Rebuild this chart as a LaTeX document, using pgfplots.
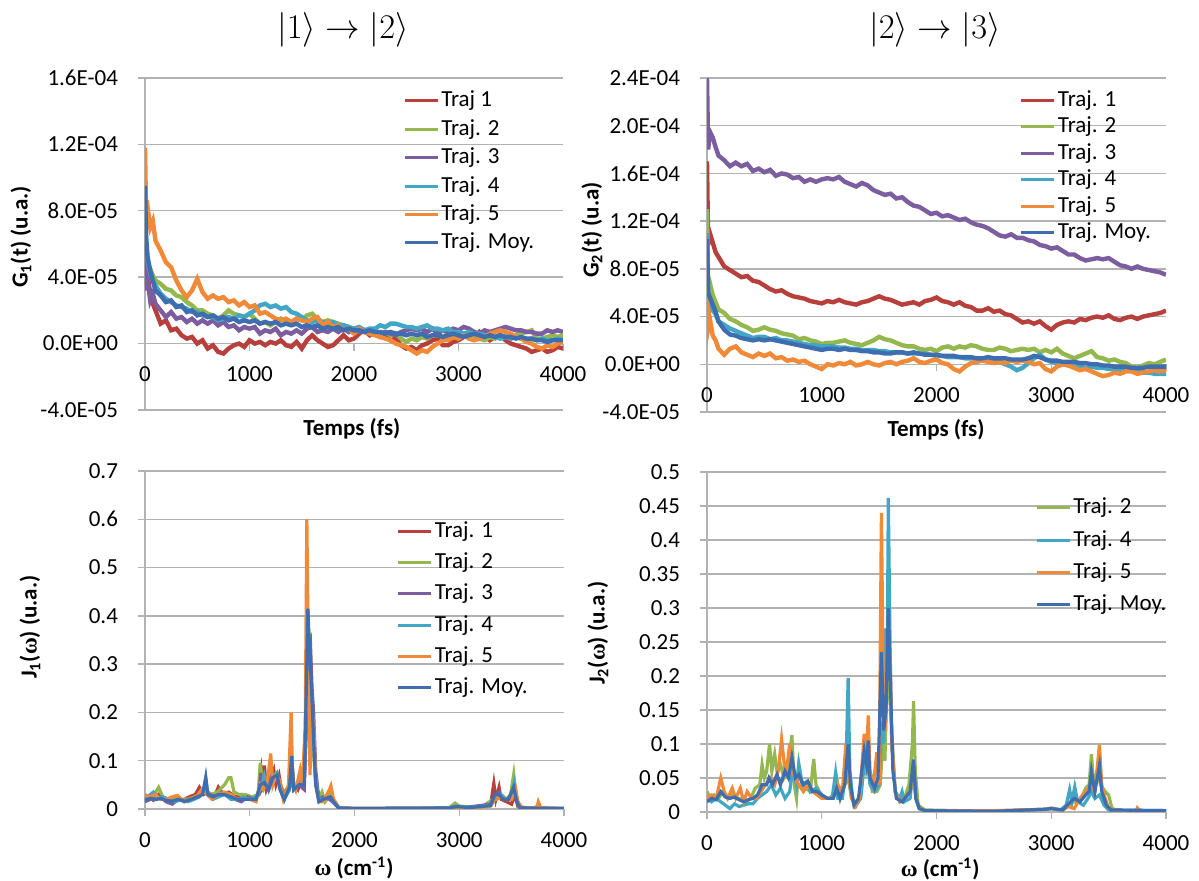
\documentclass[border=0pt]{standalone}
\usepackage[no-math]{fontspec}
\setmainfont{Carlito}
\newfontfamily\symf{Liberation Serif}
\usepackage{pgfplots}
\usepackage{pgfplotstable}
\pgfplotsset{compat=1.18}
\definecolor{c1}{RGB}{184,64,60}
\definecolor{c2}{RGB}{148,184,78}
\definecolor{c3}{RGB}{124,93,160}
\definecolor{c4}{RGB}{66,167,196}
\definecolor{c5}{RGB}{240,137,56}
\definecolor{c6}{RGB}{62,110,176}
\definecolor{gridc}{RGB}{178,178,178}

\pgfplotstableread{
t r g p c o m
0 6.0 7.5 5.5 9.2 11.8 9.5
10 3.5 5.5 3.2 6.0 8.0 6.5
25 4.2 4.8 3.8 5.0 8.2 5.2
50 3.0 4.5 2.6 4.2 7.0 4.4
75 2.4 4.1 3.0 3.8 7.4 3.8
100 2.0 3.8 2.4 3.5 6.2 3.2
150 1.2 3.6 2.0 3.0 5.6 2.9
200 1.4 3.3 1.6 2.7 4.9 2.5
250 0.8 3.2 1.9 2.5 4.6 2.6
300 0.9 2.9 1.5 2.3 3.8 2.2
350 0.5 2.8 1.6 2.2 3.2 2.3
400 0.3 2.5 1.3 2.1 2.8 1.9
450 0.4 2.3 1.5 1.9 3.2 2.0
500 0.0 2.0 1.2 1.9 3.9 1.7
550 0.2 2.0 1.4 1.7 3.1 1.8
600 -0.3 1.8 1.2 1.6 2.7 1.6
650 -0.1 1.7 1.4 1.6 2.9 1.7
700 -0.5 1.5 1.1 1.4 2.7 1.5
750 -0.6 1.7 1.3 1.5 2.8 1.6
800 -0.3 2.0 1.0 1.6 2.5 1.4
850 -0.1 1.8 1.1 1.5 2.6 1.5
900 0.0 1.7 0.8 1.7 2.3 1.3
950 -0.2 1.6 1.0 1.6 2.5 1.4
1000 0.2 1.8 0.9 1.8 2.2 1.3
1050 0.0 1.5 1.0 2.0 2.3 1.4
1100 0.1 1.2 0.6 2.3 1.8 1.2
1150 -0.1 1.3 0.8 2.4 1.9 1.3
1200 0.1 1.1 0.7 2.2 1.7 1.2
1250 0.0 1.3 0.9 2.3 1.5 1.3
1300 0.2 1.5 0.5 2.1 1.4 1.1
1350 -0.1 1.3 0.7 2.2 1.5 1.2
1400 -0.2 1.3 0.6 1.9 1.3 1.1
1450 0.1 1.5 0.8 1.8 1.5 1.2
1500 -0.3 1.4 0.6 1.6 1.4 1.0
1550 0.2 1.7 0.9 1.4 1.3 1.1
1600 0.5 1.8 1.0 1.3 1.5 1.0
1650 0.2 1.5 0.7 1.4 1.6 1.1
1700 0.0 1.3 0.8 1.3 1.1 0.9
1750 -0.2 1.4 0.7 1.2 1.3 1.0
1800 -0.1 1.3 0.9 1.3 1.0 0.9
1850 0.2 1.2 0.7 1.1 1.1 1.0
1900 0.5 1.1 0.9 1.1 0.8 0.8
1950 0.2 1.0 0.7 1.0 0.9 0.9
2000 0.3 0.8 0.9 0.9 0.6 0.8
2050 0.6 0.9 0.7 1.0 0.9 0.8
2100 0.8 0.7 0.8 0.8 0.7 0.7
2150 0.5 0.8 0.6 0.9 0.6 0.8
2200 0.7 0.8 0.7 0.9 0.5 0.7
2250 0.4 0.6 0.5 1.1 0.4 0.7
2300 0.5 0.7 0.7 1.0 0.3 0.6
2350 0.2 0.5 0.6 1.2 0.2 0.7
2400 0.3 0.6 0.5 1.2 0.0 0.6
2450 -0.1 0.3 0.7 1.1 -0.1 0.6
2500 -0.3 0.1 0.8 1.0 -0.2 0.5
2550 -0.2 0.3 0.9 1.0 -0.4 0.6
2600 -0.4 0.2 0.8 0.9 -0.6 0.5
2650 -0.1 0.4 0.9 1.0 -0.4 0.6
2700 0.0 0.3 0.7 1.1 -0.5 0.4
2750 0.2 0.5 0.9 0.9 -0.2 0.5
2800 0.3 0.5 0.6 0.9 0.0 0.5
2850 -0.1 0.4 0.8 0.8 0.2 0.4
2900 -0.1 0.6 0.7 0.9 0.2 0.5
2950 0.1 0.4 0.9 0.7 0.4 0.6
3000 0.2 0.5 0.8 0.7 0.3 0.5
3050 0.4 0.6 1.0 0.6 0.5 0.4
3100 0.5 0.4 0.9 0.7 0.3 0.5
3150 0.3 0.3 0.7 0.6 0.2 0.6
3200 0.7 0.3 0.6 0.6 0.3 0.5
3250 0.4 0.2 0.8 0.5 0.4 0.4
3300 0.2 0.4 0.7 0.5 0.6 0.5
3350 0.4 0.3 0.8 0.4 0.7 0.4
3400 0.5 0.5 0.9 0.3 0.8 0.5
3450 0.2 0.4 1.0 0.4 0.7 0.4
3500 0.0 0.3 0.9 0.3 0.6 0.4
3550 -0.1 0.5 0.8 0.4 0.4 0.3
3600 -0.2 0.6 0.8 0.3 0.3 0.4
3650 -0.3 0.7 0.7 0.2 0.1 0.3
3700 -0.5 0.8 0.7 0.3 0.0 0.3
3750 -0.4 0.3 0.6 0.2 -0.2 0.2
3800 -0.3 0.3 0.6 0.3 -0.3 0.2
3850 -0.5 0.4 0.8 0.2 -0.1 0.1
3900 -0.4 0.5 0.7 0.2 -0.2 0.2
3950 -0.2 0.4 0.8 0.3 0.0 0.2
4000 -0.3 0.5 0.7 0.2 0.1 0.2
}\tabA

\pgfplotstableread{
t r g p c o m
0 17.0 13.0 24.0 11.0 6.0 10.5
10 10.0 6.5 18.0 5.5 3.0 6.0
25 11.0 6.8 19.5 5.0 3.8 5.6
50 10.2 5.8 19.0 4.5 2.4 5.0
75 9.4 5.2 18.2 4.2 2.0 4.4
100 9.0 4.6 17.5 3.6 1.3 3.6
150 8.2 4.3 17.1 3.3 0.8 2.9
200 7.9 3.8 16.6 3.0 1.3 2.5
250 7.6 3.6 16.9 2.8 1.5 2.4
300 7.3 3.3 16.6 2.6 1.0 2.2
350 7.4 3.1 16.8 2.4 0.8 2.1
400 7.0 2.8 16.2 2.2 0.6 2.0
450 6.9 2.9 16.4 2.3 0.9 2.1
500 6.6 3.1 16.1 2.3 0.7 2.0
550 6.3 2.9 16.3 2.1 0.9 2.1
600 6.1 2.8 15.8 2.2 0.5 2.0
650 6.2 2.6 16.0 2.0 0.6 1.9
700 5.9 2.5 15.9 2.0 0.3 1.8
750 5.7 2.4 15.6 1.9 0.4 1.7
800 5.6 2.1 15.7 1.8 0.2 1.6
850 5.5 2.2 15.3 1.7 0.3 1.5
900 5.3 2.0 15.5 1.6 0.0 1.4
950 5.2 1.9 15.3 1.6 -0.2 1.3
1000 5.1 1.7 15.5 1.5 -0.4 1.2
1050 5.3 1.8 15.6 1.5 0.0 1.3
1100 5.2 1.8 15.5 1.5 -0.1 1.3
1150 5.4 1.9 15.7 1.4 0.1 1.2
1200 5.2 2.0 15.3 1.4 0.0 1.3
1250 5.1 1.8 15.1 1.3 0.2 1.2
1300 5.0 1.7 14.9 1.3 -0.1 1.2
1350 5.2 1.6 15.2 1.2 0.0 1.1
1400 5.3 1.8 15.0 1.2 0.2 1.1
1450 5.5 2.0 14.6 1.2 0.0 1.0
1500 5.7 2.3 14.4 1.1 -0.1 1.0
1550 5.5 2.1 14.2 1.1 0.1 0.9
1600 5.4 2.0 14.3 1.0 0.2 0.9
1650 5.2 1.8 13.9 1.0 0.0 1.0
1700 5.0 1.6 14.0 1.0 0.2 1.0
1750 5.1 1.5 13.6 0.9 0.3 0.9
1800 5.2 1.5 13.3 0.9 0.5 1.0
1850 5.0 1.3 13.2 0.9 0.2 0.9
1900 5.3 1.2 12.9 0.9 0.1 0.8
1950 5.4 1.3 12.6 0.8 0.3 0.8
2000 5.6 1.1 12.7 0.7 0.4 0.8
2050 5.3 1.4 12.4 0.7 0.1 0.7
2100 5.2 1.5 12.5 0.6 0.0 0.7
2150 5.0 1.3 12.3 0.6 -0.4 0.7
2200 5.2 1.5 12.1 0.6 -0.6 0.6
2250 4.9 1.4 12.2 0.5 -0.2 0.6
2300 4.8 1.6 11.9 0.5 0.1 0.6
2350 4.5 1.5 11.7 0.5 0.2 0.5
2400 4.5 1.3 11.6 0.4 0.3 0.5
2450 4.7 1.2 11.4 0.3 0.2 0.6
2500 4.4 1.2 11.1 0.2 0.1 0.5
2550 4.5 1.4 10.8 0.2 0.2 0.5
2600 4.2 1.3 10.7 0.0 0.1 0.5
2650 4.1 1.1 10.9 -0.2 0.3 0.4
2700 3.8 1.2 10.6 -0.5 0.2 0.4
2750 3.5 1.3 10.6 -0.3 0.3 0.4
2800 3.6 1.2 10.4 0.1 0.2 0.5
2850 3.4 1.3 10.3 0.5 0.0 0.7
2900 3.6 1.0 10.0 0.8 0.1 0.6
2950 3.2 1.2 9.9 0.4 -0.4 0.4
3000 2.9 1.0 9.7 0.2 -0.6 0.3
3050 3.3 1.3 9.8 0.1 -0.2 0.3
3100 3.5 0.9 9.5 0.0 0.0 0.2
3150 3.6 0.7 9.2 -0.1 -0.1 0.2
3200 3.5 0.5 9.2 -0.2 -0.3 0.2
3250 3.8 0.7 8.9 -0.2 -0.5 0.1
3300 3.7 0.9 8.7 -0.3 -0.4 0.1
3350 3.9 1.1 8.8 -0.2 -0.6 0.0
3400 4.0 0.6 8.9 -0.3 -0.8 0.0
3450 3.9 0.5 8.8 -0.3 -1.0 -0.1
3500 4.1 0.3 8.9 -0.4 -0.9 -0.1
3550 3.8 0.4 8.6 -0.4 -0.7 -0.2
3600 3.7 0.2 8.3 -0.5 -0.8 -0.2
3650 3.9 0.1 8.2 -0.4 -0.6 -0.2
3700 4.0 -0.2 8.0 -0.5 -0.6 -0.3
3750 3.8 -0.3 8.2 -0.6 -0.8 -0.3
3800 4.0 -0.1 8.0 -0.7 -0.7 -0.3
3850 4.1 0.1 7.9 -0.7 -0.6 -0.2
3900 4.2 0.0 7.8 -0.8 -0.5 -0.2
3950 4.3 0.2 7.7 -0.8 -0.6 -0.2
4000 4.5 0.4 7.5 -0.8 -0.5 -0.2
}\tabB

\newcommand{\fnt}{\fontsize{11.5}{13}\selectfont}
\newcommand{\om}{{\symf\bfseries ω}}

\pgfplotsset{
  base/.style={
    scale only axis,
    enlargelimits=false,
    axis x line=middle, axis y line=left,
    axis line style={-, draw=gridc, line width=0.7pt},
    ymajorgrids,
    major grid style={gridc, line width=0.7pt},
    tick align=outside, major tick length=3.5pt,
    tick style={gridc, line width=0.7pt},
    hide obscured x ticks=false,
    tick label style={font=\fnt, text=black},
    xticklabel style={anchor=center, yshift=-12pt},
    yticklabel style={anchor=east, xshift=-6.5pt},
    xmin=0, xmax=4000,
    xtick={0,1000,2000,3000,4000},
    xticklabels={0,1000,2000,3000,4000},
    label style={font=\fnt\bfseries},
    legend cell align=left,
    legend image code/.code={\draw[##1, line width=1.5pt] (0pt,0pt) -- (16.5pt,0pt);},
  },
  tline/.style={line width=2.2pt},
  sline/.style={line width=1.6pt},
}

\begin{document}
\begin{tikzpicture}
\useasboundingbox (0,0) rectangle (599.5pt,440.5pt);

\node[font=\fontsize{17.4}{20}\selectfont] at (171.5pt,425.5pt) {$|1\rangle \rightarrow |2\rangle$};
\node[font=\fontsize{17.4}{20}\selectfont] at (467.5pt,425.5pt) {$|2\rangle \rightarrow |3\rangle$};

% ---------- top left
\begin{axis}[base,
  at={(72.5pt,235.5pt)}, anchor=south west,
  width=209pt, height=166pt,
  ymin=-4, ymax=16, ytick={-4,0,4,8,12,16},
  yticklabels={-4.0E-05,0.0E+00,4.0E-05,8.0E-05,1.2E-04,1.6E-04},
  xlabel={Temps (fs)},
  xlabel style={at={([yshift=-9.5pt]axis description cs:0.495,0)}, anchor=center},
  ylabel={G\textsubscript{1}(t) (u.a.)},
  ylabel style={at={([xshift=-62pt]axis description cs:0,0.521)}, anchor=center, rotate=0},
  legend style={at={(axis description cs:0.617,0.717)}, anchor=west, draw=none, fill=none,
    inner sep=0pt, row sep=2.2pt, font=\fnt,
    nodes={inner sep=1pt, text height=8pt, text depth=2pt}},
]
\addplot[c1,tline] table[x=t,y=r]{\tabA};
\addplot[c2,tline] table[x=t,y=g]{\tabA};
\addplot[c3,tline] table[x=t,y=p]{\tabA};
\addplot[c4,tline] table[x=t,y=c]{\tabA};
\addplot[c5,tline] table[x=t,y=o]{\tabA};
\addplot[c6,tline] table[x=t,y=m]{\tabA};
\legend{Traj 1,Traj. 2,Traj. 3,Traj. 4,Traj. 5,Traj. Moy.}
\end{axis}

% ---------- top right
\begin{axis}[base,
  at={(353.5pt,234.5pt)}, anchor=south west,
  width=229.5pt, height=167pt,
  ymin=-4, ymax=24, ytick={-4,0,4,8,12,16,20,24},
  yticklabels={-4.0E-05,0.0E+00,4.0E-05,8.0E-05,1.2E-04,1.6E-04,2.0E-04,2.4E-04},
  xlabel={Temps (fs)},
  xlabel style={at={([yshift=-9pt]axis description cs:0.499,0)}, anchor=center},
  ylabel={G\textsubscript{2}(t) (u.a)},
  ylabel style={at={([xshift=-57.5pt]axis description cs:0,0.545)}, anchor=center, rotate=0},
  legend style={at={(axis description cs:0.681,0.735)}, anchor=west, draw=none, fill=none,
    inner sep=0pt, row sep=1.2pt, font=\fnt,
    nodes={inner sep=1pt, text height=8pt, text depth=2pt}},
]
\addplot[c1,tline] table[x=t,y=r]{\tabB};
\addplot[c2,tline] table[x=t,y=g]{\tabB};
\addplot[c3,tline] table[x=t,y=p]{\tabB};
\addplot[c4,tline] table[x=t,y=c]{\tabB};
\addplot[c5,tline] table[x=t,y=o]{\tabB};
\addplot[c6,tline] table[x=t,y=m]{\tabB};
\legend{Traj. 1,Traj. 2,Traj. 3,Traj. 4,Traj. 5,Traj. Moy.}
\end{axis}

% ---------- bottom left
\begin{axis}[base,
  at={(72.5pt,36pt)}, anchor=south west,
  width=209.5pt, height=169pt,
  ymin=0, ymax=0.7, ytick={0,0.1,0.2,0.3,0.4,0.5,0.6,0.7},
  yticklabels={0,0.1,0.2,0.3,0.4,0.5,0.6,0.7},
  xlabel={\om{} (cm\textsuperscript{-1})},
  xlabel style={at={([yshift=-29.5pt]axis description cs:0.499,0)}, anchor=center},
  ylabel={J\textsubscript{1}(\om) (u.a.)},
  ylabel style={at={([xshift=-57.5pt]axis description cs:0,0.538)}, anchor=center, rotate=0},
  legend style={at={(axis description cs:0.600,0.590)}, anchor=west, draw=none, fill=none,
    inner sep=0pt, row sep=3.6pt, font=\fnt,
    nodes={inner sep=1pt, text height=8pt, text depth=2pt}},
]
\addplot[c1,sline] coordinates {(0,0.02)(40,0.025)(80,0.018)(130,0.03)(180,0.02)(240,0.015)(300,0.022)(360,0.018)(420,0.025)(480,0.03)(520,0.045)(560,0.03)(600,0.035)(660,0.025)(700,0.045)(740,0.03)(800,0.035)(860,0.025)(920,0.03)(980,0.02)(1040,0.02)(1080,0.03)(1110,0.08)(1125,0.05)(1140,0.09)(1160,0.04)(1200,0.06)(1230,0.08)(1250,0.05)(1280,0.07)(1310,0.03)(1350,0.04)(1380,0.05)(1400,0.1)(1420,0.05)(1460,0.04)(1490,0.06)(1520,0.05)(1545,0.25)(1555,0.4)(1565,0.3)(1580,0.3)(1600,0.15)(1620,0.09)(1640,0.04)(1690,0.02)(1760,0.03)(1790,0.02)(1850,0.003)(2000,0.001)(2500,0.001)(2900,0.002)(2960,0.006)(3050,0.004)(3150,0.002)(3300,0.01)(3330,0.053)(3350,0.02)(3380,0.045)(3400,0.02)(3450,0.015)(3500,0.01)(3530,0.03)(3560,0.005)(3700,0.001)(3750,0.005)(3800,0.001)(4000,0.001)};
\addplot[c2,sline] coordinates {(0,0.025)(40,0.02)(90,0.03)(130,0.045)(170,0.025)(230,0.02)(290,0.025)(350,0.02)(410,0.02)(470,0.025)(530,0.03)(580,0.04)(630,0.03)(690,0.035)(760,0.05)(800,0.065)(820,0.065)(850,0.035)(900,0.03)(960,0.03)(1020,0.025)(1080,0.03)(1100,0.095)(1120,0.06)(1150,0.05)(1200,0.07)(1240,0.06)(1280,0.06)(1330,0.03)(1380,0.04)(1400,0.09)(1420,0.04)(1470,0.05)(1520,0.06)(1545,0.2)(1560,0.3)(1575,0.365)(1590,0.2)(1610,0.12)(1630,0.05)(1660,0.02)(1690,0.035)(1720,0.015)(1770,0.03)(1800,0.02)(1850,0.003)(2000,0.001)(2500,0.001)(2900,0.002)(2960,0.012)(3000,0.006)(3100,0.004)(3200,0.002)(3320,0.02)(3350,0.02)(3400,0.025)(3450,0.02)(3490,0.03)(3520,0.072)(3540,0.03)(3570,0.004)(3700,0.001)(3750,0.006)(3800,0.001)(4000,0.001)};
\addplot[c3,sline] coordinates {(0,0.015)(50,0.02)(100,0.02)(150,0.025)(200,0.015)(260,0.01)(320,0.02)(380,0.015)(440,0.02)(500,0.025)(560,0.035)(620,0.03)(680,0.025)(740,0.035)(800,0.03)(860,0.02)(920,0.015)(980,0.025)(1040,0.02)(1090,0.03)(1105,0.075)(1120,0.04)(1160,0.05)(1210,0.07)(1250,0.06)(1290,0.05)(1330,0.02)(1380,0.05)(1400,0.08)(1420,0.04)(1470,0.05)(1520,0.04)(1545,0.2)(1560,0.32)(1580,0.34)(1595,0.25)(1610,0.2)(1630,0.08)(1660,0.02)(1700,0.025)(1760,0.02)(1790,0.015)(1850,0.002)(2000,0.001)(2900,0.002)(2960,0.005)(3050,0.003)(3300,0.01)(3340,0.03)(3380,0.035)(3420,0.02)(3470,0.02)(3520,0.04)(3550,0.02)(3580,0.003)(4000,0.001)};
\addplot[c4,sline] coordinates {(0,0.02)(50,0.03)(80,0.035)(120,0.02)(170,0.025)(230,0.02)(290,0.015)(350,0.02)(410,0.015)(470,0.02)(520,0.025)(560,0.04)(580,0.065)(600,0.03)(650,0.02)(700,0.025)(760,0.03)(820,0.02)(880,0.02)(940,0.025)(1000,0.02)(1060,0.025)(1100,0.04)(1140,0.07)(1180,0.04)(1220,0.065)(1260,0.075)(1290,0.04)(1330,0.02)(1380,0.04)(1400,0.11)(1420,0.04)(1470,0.05)(1520,0.06)(1545,0.3)(1555,0.41)(1570,0.3)(1590,0.25)(1610,0.15)(1630,0.06)(1660,0.02)(1700,0.02)(1770,0.025)(1800,0.015)(1850,0.002)(2000,0.001)(2900,0.002)(2970,0.006)(3100,0.003)(3300,0.008)(3340,0.025)(3400,0.03)(3450,0.02)(3500,0.03)(3525,0.055)(3550,0.02)(3580,0.002)(4000,0.001)};
\addplot[c5,sline] coordinates {(0,0.03)(40,0.025)(100,0.03)(150,0.02)(200,0.02)(260,0.025)(310,0.028)(370,0.015)(430,0.02)(490,0.025)(540,0.04)(590,0.03)(640,0.02)(700,0.03)(760,0.035)(820,0.03)(880,0.02)(940,0.02)(1000,0.02)(1060,0.015)(1100,0.05)(1130,0.04)(1170,0.06)(1200,0.115)(1220,0.05)(1250,0.07)(1280,0.06)(1320,0.02)(1370,0.05)(1395,0.2)(1410,0.06)(1440,0.04)(1480,0.08)(1500,0.05)(1530,0.17)(1545,0.6)(1560,0.3)(1575,0.07)(1590,0.2)(1610,0.18)(1630,0.05)(1660,0.015)(1700,0.015)(1760,0.04)(1775,0.048)(1800,0.02)(1850,0.002)(2000,0.001)(2900,0.001)(2960,0.004)(3100,0.002)(3300,0.006)(3340,0.02)(3400,0.025)(3450,0.02)(3500,0.02)(3540,0.04)(3560,0.015)(3600,0.002)(3740,0.002)(3755,0.015)(3780,0.002)(4000,0.001)};
\addplot[c6,sline] coordinates {(0,0.018)(50,0.022)(100,0.02)(150,0.022)(200,0.018)(260,0.016)(320,0.02)(380,0.016)(440,0.02)(500,0.025)(550,0.03)(580,0.065)(600,0.03)(650,0.025)(700,0.03)(760,0.03)(820,0.025)(880,0.02)(940,0.02)(1000,0.02)(1060,0.02)(1100,0.05)(1140,0.055)(1180,0.04)(1220,0.065)(1260,0.07)(1290,0.04)(1330,0.02)(1380,0.045)(1400,0.11)(1420,0.04)(1470,0.05)(1520,0.05)(1540,0.25)(1555,0.415)(1570,0.33)(1590,0.25)(1610,0.14)(1630,0.05)(1660,0.015)(1700,0.02)(1770,0.025)(1800,0.015)(1850,0.002)(2000,0.001)(2900,0.002)(2970,0.005)(3100,0.003)(3300,0.007)(3340,0.03)(3380,0.03)(3420,0.02)(3470,0.02)(3520,0.045)(3550,0.015)(3580,0.002)(4000,0.001)};
\legend{Traj. 1,Traj. 2,Traj. 3,Traj. 4,Traj. 5,Traj. Moy.}
\end{axis}

% ---------- bottom right
\begin{axis}[base,
  at={(353.5pt,34.5pt)}, anchor=south west,
  width=229.5pt, height=170pt,
  ymin=0, ymax=0.5, ytick={0,0.05,0.1,0.15,0.2,0.25,0.3,0.35,0.4,0.45,0.5},
  yticklabels={0,0.05,0.1,0.15,0.2,0.25,0.3,0.35,0.4,0.45,0.5},
  xlabel={\om{} (cm\textsuperscript{-1})},
  xlabel style={at={([yshift=-28.5pt]axis description cs:0.508,0)}, anchor=center},
  ylabel={J\textsubscript{2}(\om) (u.a.)},
  ylabel style={at={([xshift=-54.5pt]axis description cs:0,0.526)}, anchor=center, rotate=0},
  legend style={at={(axis description cs:0.7145,0.752)}, anchor=west, draw=none, fill=none,
    inner sep=0pt, row sep=4.2pt, font=\fnt,
    nodes={inner sep=1pt, text height=8pt, text depth=2pt}},
]
\addplot[c2,sline] coordinates {(0,0.03)(30,0.02)(60,0.025)(100,0.02)(140,0.03)(180,0.02)(220,0.025)(260,0.02)(300,0.02)(340,0.015)(380,0.02)(420,0.035)(460,0.04)(480,0.07)(500,0.05)(520,0.06)(545,0.1)(565,0.06)(590,0.085)(610,0.06)(640,0.07)(670,0.05)(700,0.06)(740,0.113)(760,0.04)(780,0.02)(800,0.07)(830,0.04)(860,0.035)(900,0.03)(930,0.078)(950,0.04)(980,0.03)(1020,0.02)(1060,0.02)(1100,0.025)(1130,0.05)(1160,0.02)(1200,0.04)(1230,0.05)(1260,0.02)(1300,0.01)(1340,0.03)(1370,0.1)(1390,0.06)(1410,0.07)(1440,0.03)(1480,0.03)(1510,0.04)(1530,0.1)(1550,0.075)(1570,0.2)(1590,0.18)(1610,0.12)(1640,0.03)(1680,0.015)(1720,0.02)(1760,0.04)(1790,0.1)(1800,0.163)(1815,0.06)(1840,0.01)(1900,0.003)(2200,0.002)(2600,0.002)(2950,0.004)(3000,0.006)(3080,0.003)(3150,0.01)(3200,0.015)(3260,0.02)(3300,0.035)(3330,0.04)(3350,0.085)(3370,0.04)(3400,0.06)(3430,0.04)(3470,0.03)(3500,0.025)(3530,0.005)(3600,0.002)(4000,0.002)};
\addplot[c4,sline] coordinates {(0,0.02)(40,0.015)(80,0.02)(120,0.015)(160,0.01)(200,0.005)(240,0.012)(280,0.008)(320,0.01)(360,0.012)(400,0.012)(440,0.02)(480,0.025)(520,0.03)(560,0.04)(600,0.025)(640,0.035)(680,0.02)(720,0.03)(750,0.065)(780,0.04)(800,0.07)(830,0.04)(870,0.045)(900,0.03)(950,0.035)(1000,0.025)(1050,0.02)(1090,0.02)(1120,0.057)(1140,0.02)(1180,0.02)(1210,0.06)(1230,0.197)(1245,0.06)(1270,0.02)(1300,0.01)(1340,0.02)(1370,0.07)(1400,0.08)(1420,0.04)(1460,0.03)(1500,0.04)(1520,0.12)(1540,0.1)(1555,0.27)(1570,0.2)(1580,0.462)(1595,0.25)(1610,0.1)(1640,0.03)(1680,0.02)(1700,0.03)(1720,0.015)(1770,0.02)(1800,0.07)(1820,0.02)(1850,0.005)(1900,0.002)(2500,0.001)(2950,0.004)(3000,0.005)(3080,0.003)(3130,0.01)(3160,0.033)(3180,0.015)(3205,0.037)(3230,0.015)(3280,0.01)(3320,0.02)(3350,0.03)(3380,0.02)(3420,0.025)(3460,0.01)(3500,0.003)(4000,0.002)};
\addplot[c5,sline] coordinates {(0,0.02)(40,0.025)(80,0.02)(120,0.05)(150,0.03)(180,0.02)(220,0.035)(250,0.02)(290,0.035)(320,0.015)(350,0.03)(390,0.02)(430,0.02)(470,0.03)(510,0.04)(550,0.05)(590,0.04)(620,0.06)(650,0.107)(680,0.06)(700,0.07)(720,0.1)(740,0.06)(770,0.05)(800,0.04)(840,0.03)(880,0.04)(920,0.03)(960,0.025)(1000,0.02)(1050,0.02)(1100,0.02)(1140,0.04)(1180,0.03)(1210,0.1)(1230,0.06)(1260,0.02)(1290,0.008)(1330,0.02)(1370,0.115)(1390,0.08)(1405,0.142)(1420,0.06)(1450,0.04)(1480,0.088)(1500,0.04)(1520,0.44)(1535,0.2)(1555,0.12)(1575,0.25)(1595,0.24)(1610,0.1)(1640,0.03)(1680,0.015)(1720,0.02)(1770,0.03)(1800,0.05)(1820,0.02)(1850,0.005)(1900,0.002)(2500,0.002)(2950,0.004)(3000,0.005)(3100,0.003)(3150,0.008)(3200,0.005)(3250,0.02)(3300,0.03)(3350,0.04)(3380,0.03)(3420,0.099)(3440,0.04)(3470,0.02)(3500,0.005)(3600,0.002)(3740,0.002)(3750,0.006)(3770,0.002)(4000,0.002)};
\addplot[c6,sline] coordinates {(0,0.015)(40,0.02)(80,0.018)(120,0.03)(160,0.022)(200,0.02)(240,0.022)(280,0.018)(320,0.015)(360,0.018)(400,0.02)(440,0.025)(480,0.04)(520,0.04)(540,0.05)(570,0.04)(610,0.055)(640,0.04)(680,0.06)(710,0.05)(740,0.08)(770,0.05)(800,0.055)(840,0.04)(880,0.045)(920,0.03)(960,0.03)(1000,0.025)(1050,0.02)(1100,0.02)(1130,0.035)(1160,0.02)(1200,0.04)(1230,0.1)(1250,0.04)(1280,0.01)(1320,0.02)(1370,0.09)(1390,0.07)(1405,0.105)(1420,0.05)(1460,0.035)(1490,0.05)(1520,0.235)(1540,0.12)(1560,0.15)(1580,0.3)(1600,0.18)(1620,0.06)(1650,0.02)(1700,0.015)(1770,0.03)(1800,0.077)(1820,0.02)(1850,0.005)(1900,0.002)(2500,0.001)(2950,0.004)(3000,0.005)(3100,0.003)(3150,0.012)(3200,0.02)(3250,0.015)(3300,0.025)(3330,0.03)(3350,0.06)(3380,0.03)(3420,0.068)(3440,0.03)(3480,0.01)(3520,0.003)(4000,0.002)};
\legend{Traj. 2,Traj. 4,Traj. 5,Traj. Moy.}
\end{axis}
\end{tikzpicture}
\end{document}
